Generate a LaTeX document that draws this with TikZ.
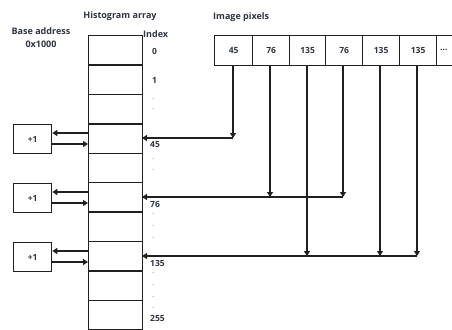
\documentclass[tikz,border=0pt]{standalone}
\usepackage{fontspec}
\setmainfont{Open Sans}
\usetikzlibrary{arrows.meta}
\definecolor{txt}{HTML}{2E3440}
\definecolor{ln}{HTML}{202020}
\begin{document}
\begin{tikzpicture}[x=1pt,y=-1pt,
  cell/.style={draw=ln,line width=1.3pt,minimum width=54pt,minimum height=29.4pt,inner sep=0pt,anchor=north west},
  pix/.style={draw=ln,line width=1.3pt,minimum height=30pt,inner sep=0pt,anchor=north west,font=\fontsize{8.5}{9}\selectfont\bfseries,text=txt},
  lab/.style={font=\fontsize{9}{10}\selectfont\bfseries,text=txt,inner sep=0pt},
  idx/.style={font=\fontsize{8.5}{9}\selectfont\bfseries,text=txt,inner sep=0pt,anchor=west},
  dot/.style={font=\fontsize{8}{9}\selectfont,text=gray,inner sep=0pt,anchor=west},
  plus/.style={draw=ln,line width=1.3pt,minimum width=38pt,minimum height=29pt,inner sep=0pt,anchor=north west,font=\fontsize{8.5}{9}\selectfont\bfseries,text=txt},
  arr/.style={draw=ln,line width=1.3pt,-{Triangle[length=5pt,width=6pt]}}]
\useasboundingbox (0,0) rectangle (452,329);
% labels
\node[lab] (ha) at (120,16) {Histogram array};
\node[lab] (ba) at (41,31) {Base address};
\node[lab] (bx) at (41,44) {0x1000};
\node[lab,anchor=west] (ip) at (213,17) {Image pixels};
\node[lab,anchor=west] (ix) at (143,34) {Index};
% array cells
\foreach \i in {0,...,9}{
  \node[cell] (c\i) at (88,{35+29.4*\i}) {};
}
% index labels
\node[idx] (i0) at (152,51) {0};
\node[idx] (i1) at (152,80) {1};
\node[dot] at (152,99) {.};
\node[dot] at (152,109) {.};
\node[idx] (i45) at (150,145) {45};
\node[dot] at (152,159) {.};
\node[dot] at (152,170) {.};
\node[idx] (i76) at (150,204) {76};
\node[dot] at (152,214) {.};
\node[dot] at (152,226) {.};
\node[dot] at (152,238) {.};
\node[idx] (i135) at (150,263) {135};
\node[dot] at (152,273) {.};
\node[dot] at (152,285) {.};
\node[dot] at (152,297) {.};
\node[dot] at (152,308) {.};
\node[idx] (i255) at (150,318) {255};
% image pixels
\node[pix,minimum width=38pt] (p1) at (214,35) {45};
\node[pix,minimum width=37pt] (p2) at (252,35) {76};
\node[pix,minimum width=36pt] (p3) at (289,35) {135};
\node[pix,minimum width=37pt] (p4) at (325,35) {76};
\node[pix,minimum width=37pt] (p5) at (362,35) {135};
\node[pix,minimum width=37pt] (p6) at (399,35) {135};
\node[pix,minimum width=30pt] (p7) at (436,35) {};
\node[idx] (el) at (440,50) {\ldots};
% target coordinates on the array edge
\coordinate (t45) at (142,138);
\coordinate (t76) at (142,197);
\coordinate (t135) at (142,256);
\coordinate (k1) at (233,138);
\coordinate (k2) at (270,197);
\coordinate (k3) at (307,256);
\coordinate (k4) at (343,197);
\coordinate (k5) at (380,256);
\coordinate (k6) at (417,256);
% verticals
\draw[arr] (p1.south -| k1) -- (k1);
\draw[arr] (p2.south -| k2) -- (k2);
\draw[arr] (p3.south -| k3) -- (k3);
\draw[arr] (p4.south -| k4) -- (k4);
\draw[arr] (p5.south -| k5) -- (k5);
\draw[arr] (p6.south -| k6) -- (k6);
% horizontals
\draw[arr] (k1) -- (t45);
\draw[arr] (k4) -- (t76);
\draw[arr] (k6) -- (t135);
% +1 boxes
\node[plus] (a1) at (13,124) {+1};
\node[plus] (a2) at (13,183) {+1};
\node[plus] (a3) at (13,242) {+1};
\foreach \b/\y in {a1/124,a2/183,a3/242}{
  \draw[arr] (88,{\y+9}) -- (\b.east |- 0,{\y+9});
  \draw[arr] (\b.east |- 0,{\y+20}) -- (88,{\y+20});
}
\end{tikzpicture}
\end{document}
